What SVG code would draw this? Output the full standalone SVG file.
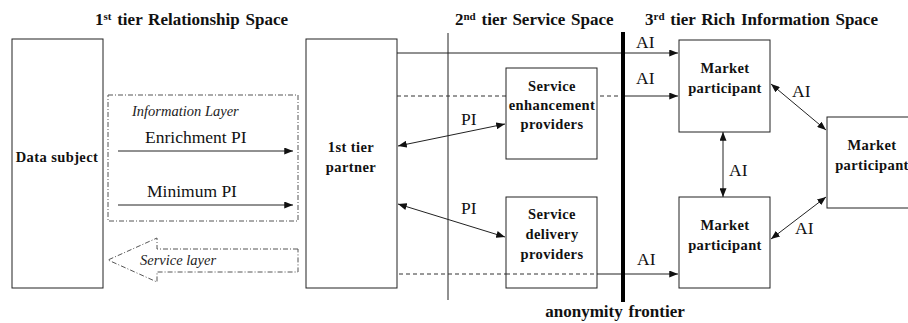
<svg xmlns="http://www.w3.org/2000/svg" width="908" height="323" viewBox="0 0 908 323" font-family="'Liberation Serif', 'Times New Roman', serif">
  <defs>
    <marker id="arrowEnd" viewBox="0 0 10 8" refX="10" refY="4" markerWidth="9" markerHeight="7" markerUnits="userSpaceOnUse" orient="auto">
      <path d="M0,0 L10,4 L0,8 Z" fill="#111"/>
    </marker>
    <marker id="arrowStart" viewBox="0 0 10 8" refX="0" refY="4" markerWidth="9" markerHeight="7" markerUnits="userSpaceOnUse" orient="auto">
      <path d="M10,0 L0,4 L10,8 Z" fill="#111"/>
    </marker>
  </defs>
  <style>
    text { font-family: 'Liberation Serif', 'Times New Roman', serif; }
    .box { fill: #fff; stroke: #222; stroke-width: 1; }
    .line { fill: none; stroke: #222; stroke-width: 1; }
    .dashed { fill: none; stroke: #333; stroke-width: 1; stroke-dasharray: 4 3; }
    .dashdot { fill: none; stroke: #555; stroke-width: 1; stroke-dasharray: 5 2 1 2; }
    .head { font-weight: bold; font-size: 17px; fill: #111; word-spacing: 1.5px; }
    .lbl { font-weight: bold; font-size: 14.5px; fill: #111; text-anchor: middle; letter-spacing: 0.4px; }
    .tag { font-size: 17.5px; fill: #111; }
    .ital { font-style: italic; font-size: 14.5px; fill: #222; }
  </style>

  <!-- Section headings -->
  <g id="headings">
    <text class="head" x="95" y="25">1<tspan font-size="11" dy="-5">st</tspan><tspan dy="5"> tier Relationship Space</tspan></text>
    <text class="head" x="455" y="25">2<tspan font-size="11" dy="-5">nd</tspan><tspan dy="5"> tier Service Space</tspan></text>
    <text class="head" x="645" y="25">3<tspan font-size="11" dy="-5">rd</tspan><tspan dy="5"> tier Rich Information Space</tspan></text>
  </g>

  <!-- Divider between tier 1 and tier 2 -->
  <line class="line" x1="448" y1="33" x2="448" y2="300"/>

  <!-- Information layer -->
  <g id="information-layer">
    <rect class="dashdot" x="108" y="95" width="190" height="126"/>
    <text class="ital" x="132" y="116">Information Layer</text>
    <text class="tag" x="145" y="143">Enrichment PI</text>
    <text class="tag" x="147" y="197">Minimum PI</text>
  </g>

  <!-- Service layer block arrow -->
  <g id="service-layer">
    <path class="dashdot" d="M298,249 L157,249 L157,238 L108,260 L157,282 L157,272 L298,272 Z"/>
    <text class="ital" x="140" y="265">Service layer</text>
  </g>

  <!-- Nodes -->
  <g id="data-subject">
    <rect class="box" x="12" y="39" width="91" height="249"/>
    <text class="lbl" x="57" y="162">Data subject</text>
  </g>

  <g id="first-tier-partner">
    <rect class="box" x="306" y="39" width="91" height="249"/>
    <text class="lbl" x="351" y="152">1st tier</text>
    <text class="lbl" x="351" y="172">partner</text>
  </g>

  <!-- Connectors -->
  <g id="connectors">
    <line class="line" x1="118" y1="151" x2="293" y2="151" marker-end="url(#arrowEnd)"/>
    <line class="line" x1="118" y1="205" x2="293" y2="205" marker-end="url(#arrowEnd)"/>

    <line class="line" x1="397" y1="53" x2="678" y2="53" marker-end="url(#arrowEnd)"/>
    <line class="dashed" x1="397" y1="96" x2="623" y2="96"/>
    <line class="line" x1="623" y1="96" x2="678" y2="96" marker-end="url(#arrowEnd)"/>
    <line class="dashed" x1="399" y1="274" x2="595" y2="274"/>
    <line class="line" x1="595" y1="274" x2="678" y2="274" marker-end="url(#arrowEnd)"/>

    <line class="line" x1="398" y1="146" x2="505" y2="124" marker-start="url(#arrowStart)" marker-end="url(#arrowEnd)"/>
    <line class="line" x1="398" y1="204" x2="505" y2="237" marker-start="url(#arrowStart)" marker-end="url(#arrowEnd)"/>

    <line class="line" x1="723" y1="132" x2="723" y2="197" marker-start="url(#arrowStart)" marker-end="url(#arrowEnd)"/>
    <line class="line" x1="771" y1="84" x2="826" y2="130" marker-start="url(#arrowStart)" marker-end="url(#arrowEnd)"/>
    <line class="line" x1="771" y1="239" x2="826" y2="197" marker-start="url(#arrowStart)" marker-end="url(#arrowEnd)"/>
  </g>

  <!-- Connector labels -->
  <g id="connector-labels">
    <text class="tag" x="461" y="125">PI</text>
    <text class="tag" x="461" y="214">PI</text>
    <text class="tag" x="636" y="48">AI</text>
    <text class="tag" x="636" y="84">AI</text>
    <text class="tag" x="637" y="265">AI</text>
    <text class="tag" x="792" y="97">AI</text>
    <text class="tag" x="729" y="176">AI</text>
    <text class="tag" x="795" y="234">AI</text>
  </g>

  <g id="service-enhancement-providers">
    <rect class="box" x="506" y="68" width="91" height="91"/>
    <text class="lbl" x="552" y="91">Service</text>
    <text class="lbl" x="552" y="110">enhancement</text>
    <text class="lbl" x="552" y="129">providers</text>
  </g>

  <g id="service-delivery-providers">
    <rect class="box" x="506" y="197" width="91" height="91"/>
    <text class="lbl" x="552" y="219">Service</text>
    <text class="lbl" x="552" y="239">delivery</text>
    <text class="lbl" x="552" y="259">providers</text>
  </g>
  <!-- dashed flow continues across the delivery box -->
  <line class="dashed" x1="506" y1="274" x2="595" y2="274"/>

  <!-- Anonymity frontier -->
  <g id="anonymity-frontier">
    <line x1="623" y1="32" x2="623" y2="302" stroke="#000" stroke-width="4"/>
    <text class="head" x="615" y="317" text-anchor="middle">anonymity frontier</text>
  </g>

  <g id="market-participant-top">
    <rect class="box" x="679" y="40" width="91" height="92"/>
    <text class="lbl" x="725" y="73">Market</text>
    <text class="lbl" x="725" y="93">participant</text>
  </g>

  <g id="market-participant-bottom">
    <rect class="box" x="679" y="197" width="91" height="91"/>
    <text class="lbl" x="725" y="230">Market</text>
    <text class="lbl" x="725" y="250">participant</text>
  </g>

  <g id="market-participant-right">
    <rect class="box" x="827" y="117" width="91" height="91"/>
    <text class="lbl" x="872" y="150">Market</text>
    <text class="lbl" x="872" y="170">participant</text>
  </g>
</svg>
